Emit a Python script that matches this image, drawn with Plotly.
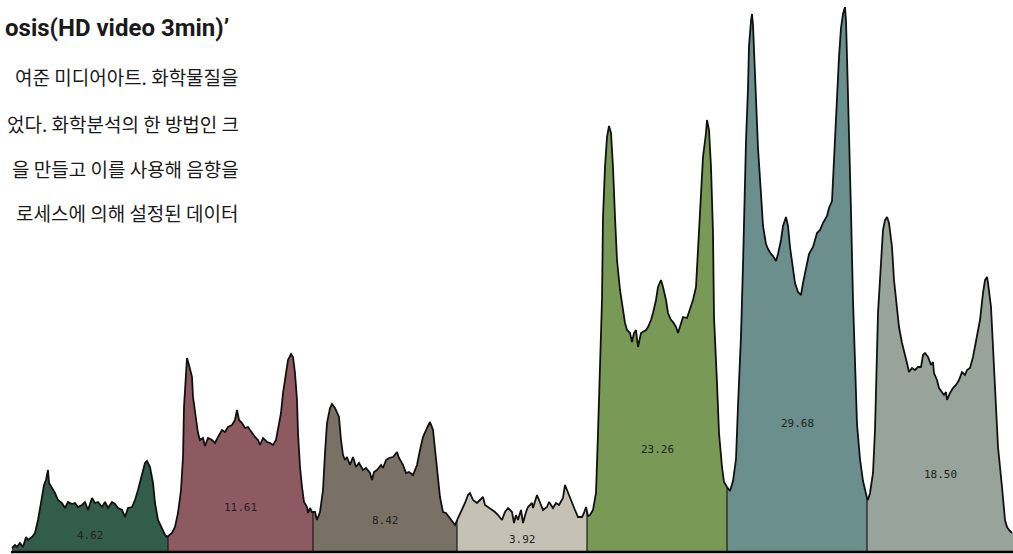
import numpy as np
import plotly.graph_objects as go

# ---------------- data ----------------
time = [12, 15, 17, 20, 23, 26, 28, 32, 35, 38, 42, 44, 46, 48, 49, 52, 55, 58, 62, 65, 68, 72, 75, 78, 82, 85, 88, 92, 95, 98,
        102, 105, 108, 112, 115, 118, 122, 125, 128, 132, 135, 138, 142, 145, 147, 150, 153, 155, 158, 162, 165, 167,
        169, 172, 175, 178, 181, 183, 184, 186, 187, 189, 192, 193, 196, 198, 200, 203, 205, 208, 212, 215, 218, 222, 225,
        228, 232, 235, 237, 239, 242, 245, 248, 252, 255, 258, 260, 263, 267, 270, 273, 276, 278, 281, 283, 286, 288, 291,
        293, 295, 297, 298, 300, 302, 304, 307, 308, 310, 312,
        315, 317, 320, 323, 325, 327, 330, 332, 335, 337, 339, 341, 343, 345, 347, 350, 353, 356, 359, 363, 366, 370, 372,
        374, 377, 381, 383, 386, 389, 393, 397, 399, 403, 406, 409, 413, 417, 420, 423, 427, 430, 433, 435, 437, 440, 443,
        446, 449, 453, 455,
        458, 462, 465, 468, 470, 473, 477, 480, 483, 485, 488, 492, 495, 498, 502, 505, 508, 512, 514, 516, 518, 521, 523,
        526, 528, 532, 533, 537, 540, 543, 547, 549, 553, 556, 559, 563, 565, 568, 572, 575, 578, 582, 584, 586,
        588, 590, 593, 596, 598, 600, 602, 603, 605, 607, 609, 611, 613, 615, 617, 620, 623, 625, 627, 630, 632, 634, 636,
        638, 641, 643, 646, 648, 651, 653, 656, 658, 661, 663, 666, 668, 671, 673, 676, 678, 681, 683, 687, 690, 693, 696,
        698, 701, 703, 706, 707, 709, 711, 713, 714, 717, 719, 722, 724, 727,
        730, 733, 736, 738, 741, 743, 744, 746, 748, 749, 751, 752, 753, 754, 756, 758, 761, 763, 766, 768, 771, 773, 776,
        778, 781, 783, 786, 788, 790, 793, 795, 798, 801, 803, 806, 809, 813, 815, 817, 820, 823, 827, 829, 832, 834, 837,
        839, 841, 843, 845, 846, 847, 849, 851, 853, 855, 857, 860, 863, 867,
        868, 870, 873, 875, 877, 878, 881, 883, 885, 887, 889, 892, 894, 897, 899, 902, 904, 907, 909, 912, 915, 918, 921,
        923, 925, 928, 931, 933, 934, 937, 939, 942, 944, 946, 947, 950, 953, 956, 959, 962, 965, 967, 970, 973, 977, 980,
        983, 985, 987, 988, 991, 993, 995, 998, 1002, 1005, 1007, 1009, 1012]

signal = [3, 6, 4, 8, 4, 14, 11, 14, 18, 31, 54, 66, 71, 81, 68, 63, 58, 51, 48, 43, 49, 47, 48, 44, 46, 49, 41, 53, 48, 49,
          44, 49, 43, 49, 47, 43, 41, 34, 43, 44, 51, 61, 78, 88, 90, 84, 68, 48, 31, 23, 16, 14,
          16, 18, 24, 38, 61, 94, 144, 184, 193, 186, 174, 154, 131, 118, 111, 113, 105, 113, 111, 108, 114, 121, 119,
          124, 126, 131, 141, 131, 128, 123, 124, 118, 114, 111, 106, 113, 109, 108, 106, 111, 121, 138, 158, 178, 191, 197,
          194, 178, 151, 118, 84, 64, 49, 44, 38, 43, 39,
          39, 31, 39, 61, 98, 128, 143, 147, 143, 139, 134, 111, 96, 91, 94, 86, 94, 84, 88, 81, 83, 78, 71,
          79, 81, 86, 83, 91, 93, 94, 99, 93, 86, 78, 79, 76, 86, 101, 114, 123, 129, 121, 101, 78, 54, 39,
          38, 34, 29, 26,
          33, 41, 48, 56, 58, 51, 48, 51, 54, 46, 44, 41, 39, 36, 31, 39, 43, 39, 28, 36, 31, 41, 28,
          39, 44, 48, 43, 56, 49, 41, 44, 49, 43, 48, 46, 53, 66, 58, 49, 41, 34, 34, 38, 44,
          35, 36, 41, 58, 118, 184, 251, 334, 384, 414, 425, 418, 384, 334, 291, 261, 241, 228, 221, 218, 209, 218, 221,
          204, 218, 219, 221, 224, 231, 238, 251, 264, 271, 264, 251, 238, 231, 229, 224, 218, 228, 234, 233, 241, 251, 264,
          298, 351, 394, 418, 431, 421, 384, 318, 234, 168, 118, 84, 69, 64,
          60, 70, 92, 145, 215, 286, 339, 410, 463, 505, 530, 537, 526, 498, 452, 403, 357, 325, 307, 302, 297, 295, 290,
          297, 311, 325, 334, 325, 304, 282, 268, 259, 256, 268, 282, 297, 304, 311, 318, 321, 328, 335, 343, 350, 392, 445,
          494, 523, 537, 544, 530, 494, 427, 339, 251, 180, 127, 92, 70, 53,
          51, 58, 78, 121, 188, 238, 288, 321, 331, 334, 328, 304, 271, 244, 224, 208, 201, 188, 179, 183, 181, 184, 184,
          196, 198, 194, 186, 189, 178, 171, 163, 158, 156, 159, 151, 158, 163, 166, 171, 179, 176, 181, 183, 194, 214, 231,
          258, 271, 274, 268, 244, 204, 154, 104, 64, 31, 24, 21, 18]

boundaries = [12, 168, 313, 457, 587, 727, 867, 1013]
area_labels = ["4.62", "11.61", "8.42", "3.92", "23.26", "29.68", "18.50"]
seg_colors = ["#325d4c", "#8d5a62", "#7a7166", "#c5c2b5", "#789a56", "#6a8f8c", "#97a39b"]

title_text = "osis(HD video 3min)’"
body_lines = [
    "여준 미디어아트. 화학물질을",
    "었다. 화학분석의 한 방법인 크",
    "을 만들고 이를 사용해 음향을",
    "로세스에 의해 설정된 데이터",
]

# ---------------- figure ----------------
t = np.array(time, dtype=float)
s = np.array(signal, dtype=float)

fig = go.Figure()

for i in range(len(area_labels)):
    a, b = boundaries[i], boundaries[i + 1]
    mask = (t > a) & (t < b)
    xs = [a] + list(t[mask]) + [b]
    ys = [float(np.interp(a, t, s))] + list(s[mask]) + [float(np.interp(b, t, s))]
    fig.add_trace(go.Scatter(
        x=[a] + xs + [b], y=[0] + ys + [0],
        mode="lines", fill="toself", fillcolor=seg_colors[i],
        line=dict(width=0, color=seg_colors[i]), hoverinfo="skip", showlegend=False))

# segment dividers
for b in boundaries[1:-1]:
    fig.add_trace(go.Scatter(
        x=[b, b], y=[0, float(np.interp(b, t, s))], mode="lines",
        line=dict(color="#1a1a1a", width=1.2), hoverinfo="skip", showlegend=False))

# outline of trace
fig.add_trace(go.Scatter(x=t, y=s, mode="lines", line=dict(color="#111111", width=1.8),
                         hoverinfo="skip", showlegend=False))

# baseline
fig.add_trace(go.Scatter(x=[t[0] - 1, boundaries[-1]], y=[-1, -1], mode="lines",
                         line=dict(color="#000000", width=2.5), hoverinfo="skip", showlegend=False))

label_heights = [16, 44, 31, 12, 102, 128, 77]
for i, lab in enumerate(area_labels):
    cx = (boundaries[i] + boundaries[i + 1]) / 2
    fig.add_annotation(x=cx, y=label_heights[i], xref="x", yref="y", text=lab, showarrow=False,
                       font=dict(family="DejaVu Sans Mono", size=11, color="#222222"))

W, H = 1013, 554
fig.add_annotation(x=231 / W, y=1 - 28 / H, xref="paper", yref="paper", xanchor="right", yanchor="middle",
                   text=title_text, showarrow=False,
                   font=dict(family="Roboto", size=24, color="#1a1a1a", weight="bold"))
line_y = [77, 124, 168, 212]
for ly, txt in zip(line_y, body_lines):
    fig.add_annotation(x=241 / W, y=1 - ly / H, xref="paper", yref="paper", xanchor="right", yanchor="middle",
                       text=txt, showarrow=False,
                       font=dict(family="Noto Sans CJK KR", size=19, color="#1a1a1a"))

fig.update_layout(
    width=W, height=H, margin=dict(l=0, r=0, t=0, b=0),
    paper_bgcolor="white", plot_bgcolor="white",
    xaxis=dict(range=[0, W], visible=False, fixedrange=True),
    yaxis=dict(range=[-3, 551], visible=False, fixedrange=True),
    showlegend=False,
)

fig.write_html("out.html")
